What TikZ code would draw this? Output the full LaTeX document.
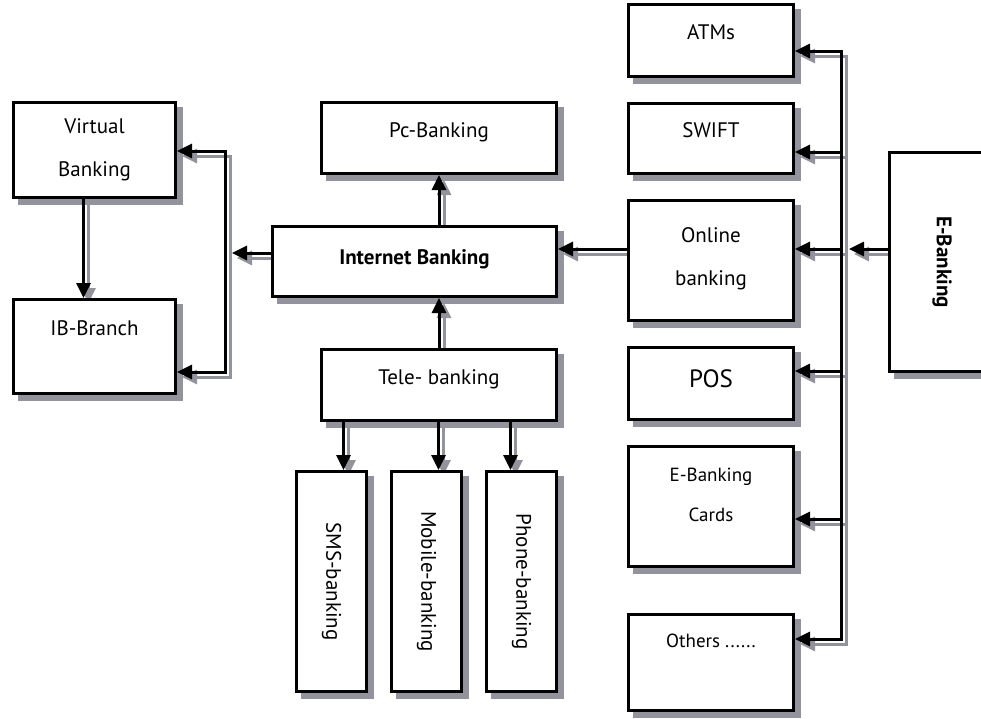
\documentclass[tikz,border=0pt]{standalone}
\usepackage{fontspec}
\setmainfont{PT Sans}
\usepackage{graphicx}
\usepackage{tikz}
\usetikzlibrary{positioning,arrows.meta,calc}
\definecolor{shadowgray}{RGB}{146,147,156}
\pgfdeclarelayer{background}
\pgfsetlayers{background,main}

% black connector over a grey copy shifted right and down
\newcommand{\Connect}[3][]{%
  \begin{pgfonlayer}{background}
    \draw[ShadowLine,#1] ($(#2)+(5pt,-5pt)$) -- ($(#3)+(5pt,-5pt)$);
  \end{pgfonlayer}
  \draw[MainLine,#1] (#2) -- (#3);}

\begin{document}
\begin{tikzpicture}[x=1pt, y=-1pt,
        BaseBox/.style = { rectangle, draw, line width=3pt, fill=white,
          align=center, inner sep=2pt,
          font = \fontsize{21}{43}\selectfont },
        BoxStyle/.style = { BaseBox, text depth=16pt },
        WideStyle/.style = { BoxStyle, minimum width=165pt },
        TallStyle/.style = { BaseBox, minimum width=70pt, minimum height=220pt,
          font = \fontsize{21}{24}\selectfont },
        MainLine/.style = { line width=3pt },
        ShadowLine/.style = { line width=3pt, draw=shadowgray },
        Tip/.style = { -{Triangle[length=15pt,width=14pt]} }
      ]
      \useasboundingbox (0,0) rectangle (981,718);
      % E-Banking side
      \node[WideStyle, minimum height=72pt, anchor=north west] (atms) at (627,3) {ATMs};
      \node[WideStyle, minimum height=70pt, below=24pt of atms] (swift) {SWIFT};
      \node[WideStyle, minimum height=120pt, below=24pt of swift, text depth=8pt]
        (online) {Online\\banking};
      \node[WideStyle, minimum height=72pt, below=24pt of online, text depth=10pt,
        font=\fontsize{25}{30}\selectfont] (pos) {POS};
      \node[WideStyle, minimum height=120pt, below=24pt of pos, text depth=24pt,
        font=\fontsize{19}{40}\selectfont] (cards) {E-Banking\\Cards};
      \node[WideStyle, minimum height=96pt, below=45pt of cards, text depth=44pt,
        font=\fontsize{19}{40}\selectfont] (others) {Others ......};
      \node[BaseBox, minimum width=105pt, minimum height=219pt, anchor=north west,
        font=\bfseries\fontsize{21}{25}\selectfont] (ebank) at (888,151)
        {\rotatebox{-90}{E-Banking}};
      % Internet banking
      \node[BoxStyle, minimum width=235pt, minimum height=71pt, anchor=north east]
        (pcb) at (558,101) {Pc-Banking};
      \node[BoxStyle, minimum width=284pt, minimum height=70pt, anchor=north east,
        text depth=8pt, font=\bfseries\fontsize{21}{43}\selectfont]
        (inet) at ([yshift=-50pt]pcb.south east) {Internet Banking};
      \node[BoxStyle, minimum width=235pt, minimum height=71pt, anchor=north east]
        (tele) at ([yshift=-50pt]inet.south east) {Tele- banking};
      \node[TallStyle, anchor=north west] (sms) at (295,470) {\rotatebox{-90}{SMS-banking}};
      \node[TallStyle, right=22pt of sms] (mob) {\rotatebox{-90}{Mobile-banking}};
      \node[TallStyle, right=22pt of mob] (phone) {\rotatebox{-90}{Phone-banking}};
      % virtual banking
      \node[BaseBox, minimum width=162pt, minimum height=95pt, anchor=north west]
        (virt) at (12,101) {Virtual\\Banking};
      \node[BoxStyle, minimum width=162pt, minimum height=94pt, below=99pt of virt,
        text depth=36pt] (ibb) {IB-Branch};

      % box shadows
      \begin{pgfonlayer}{background}
        \foreach \bx in {atms,swift,online,pos,cards,others,ebank,pcb,inet,tele,
            sms,mob,phone,virt,ibb}
          \fill[shadowgray] ($(\bx.north west)+(6pt,-6pt)$) rectangle ($(\bx.south east)+(6pt,-6pt)$);
      \end{pgfonlayer}

      % buses
      \coordinate (r1) at (841,51);  \coordinate (r2) at (841,152);
      \coordinate (r3) at (841,249); \coordinate (r4) at (841,371);
      \coordinate (r5) at (841,519); \coordinate (r6) at (841,639);
      \coordinate (e1) at (849,249);
      \coordinate (l1) at (225,151); \coordinate (l2) at (225,372);
      \coordinate (l3) at (232,253);
      \coordinate (v1) at ([xshift=-11pt]virt.south);
      \coordinate (s1) at ([xshift=12pt]sms.north);
      \coordinate (s2) at ([xshift=12pt]mob.north);
      \coordinate (s3) at ([xshift=-11pt]phone.north);

      \Connect[line cap=rect]{r1}{r6}
      \foreach \r/\bx in {r1/atms, r2/swift, r3/online, r4/pos, r5/cards, r6/others}
        {\Connect[Tip]{\r}{\r -| \bx.east}}
      \Connect[Tip]{r3 -| ebank.west}{e1}
      \Connect[Tip]{r3 -| online.west}{r3 -| inet.east}
      \Connect[Tip]{pcb.south |- inet.north}{pcb.south}
      \Connect[Tip]{tele.north}{tele.north |- inet.south}
      \foreach \s in {s1,s2,s3}
        {\Connect[Tip]{\s |- tele.south}{\s}}

      \Connect[line cap=rect]{l1}{l2}
      \Connect[Tip]{l3 -| inet.west}{l3}
      \Connect[Tip]{l1}{l1 -| virt.east}
      \Connect[Tip]{l2}{l2 -| ibb.east}
      \Connect[Tip]{v1}{v1 |- ibb.north}
    \end{tikzpicture}
\end{document}
